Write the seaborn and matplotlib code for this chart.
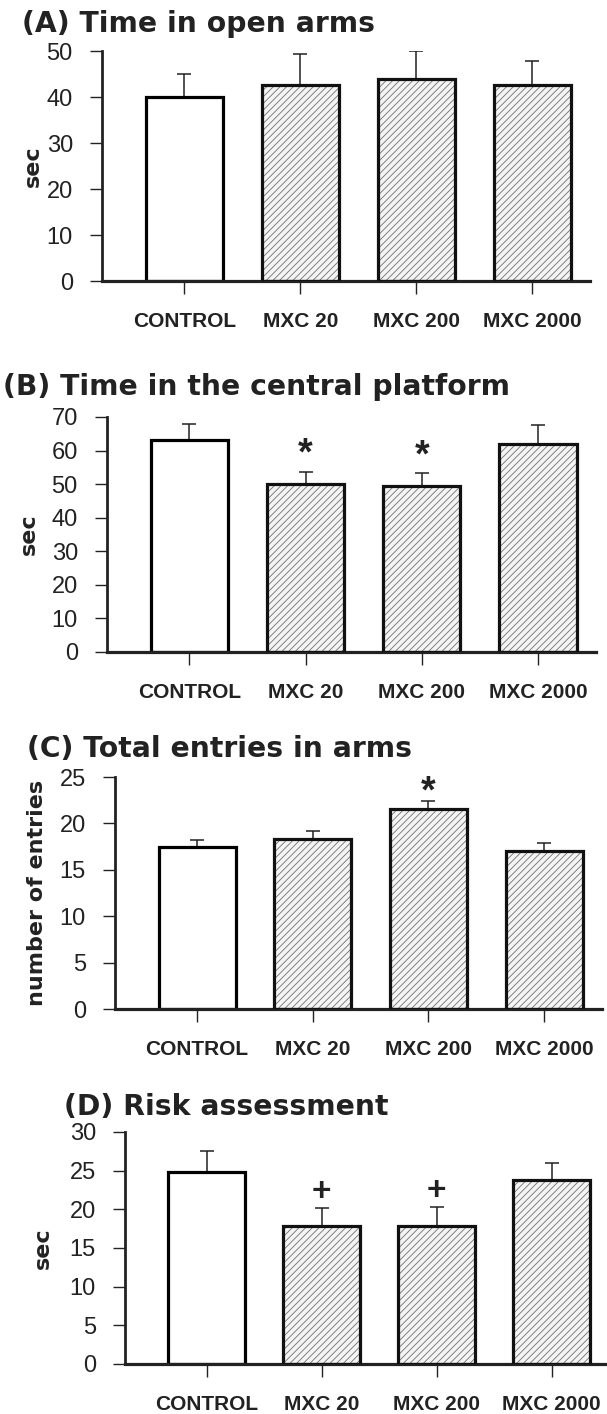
import matplotlib
matplotlib.use("Agg")
import matplotlib.pyplot as plt
from matplotlib.patches import Rectangle
import seaborn as sns
import pandas as pd
import numpy as np

# ---------------- data ----------------
groups = ["CONTROL", "MXC 20", "MXC 200", "MXC 2000"]

titles = ["(A) Time in open arms",
          "(B) Time in the central platform",
          "(C) Total entries in arms",
          "(D) Risk assessment"]
ylabels = ["sec", "sec", "number of entries", "sec"]

a_means = [40.0, 42.7, 44.0, 42.7]
a_err = [5.0, 6.6, 6.0, 5.2]
a_marks = ["", "", "", ""]
a_ymax, a_ystep = 50, 10

b_means = [63.0, 50.0, 49.5, 62.0]
b_err = [4.8, 3.7, 3.8, 5.6]
b_marks = ["", "*", "*", ""]
b_ymax, b_ystep = 70, 10

c_means = [17.5, 18.3, 21.5, 17.0]
c_err = [0.7, 0.9, 0.9, 0.9]
c_marks = ["", "", "*", ""]
c_ymax, c_ystep = 25, 5

d_means = [24.8, 17.9, 17.9, 23.8]
d_err = [2.8, 2.3, 2.4, 2.2]
d_marks = ["", "+", "+", ""]
d_ymax, d_ystep = 30, 5

panels = [
    (a_means, a_err, a_marks, a_ymax, a_ystep),
    (b_means, b_err, b_marks, b_ymax, b_ystep),
    (c_means, c_err, c_marks, c_ymax, c_ystep),
    (d_means, d_err, d_marks, d_ymax, d_ystep),
]

# ---------------- style ----------------
sns.set_style("ticks")
plt.rcParams["font.family"] = ["Liberation Sans", "DejaVu Sans"]
plt.rcParams["hatch.linewidth"] = 0.6

W, H = 607, 1414
fig = plt.figure(figsize=(W / 100, H / 100), dpi=100)

# axes boxes in pixels: left, top, right, bottom
boxes = [(102, 51, 590, 281),
         (107, 417, 596, 652),
         (115, 777, 602, 1009),
         (125, 1132, 609, 1364)]
title_pos = [(22, 32), (3, 395), (27, 757), (64, 1115)]
ylabel_x = [33, 29, 37, 43]
mark_gap_px = [0, -1, -9, 0]   # gap between error-bar top and marker

for i, (means, errs, marks, ymax, ystep) in enumerate(panels):
    l, t, r, b = boxes[i]
    ax = fig.add_axes([l / W, 1 - b / H, (r - l) / W, (b - t) / H])
    df = pd.DataFrame({"group": groups, "value": means})
    sns.barplot(data=df, x="group", y="value", ax=ax, color="white",
                edgecolor="black", linewidth=2.3, width=0.665,
                errorbar=None, zorder=2)
    xs, tops = [], []
    for j, p in enumerate(ax.patches):
        x0, y0 = p.get_x(), p.get_y()
        w, h = p.get_width(), p.get_height()
        xs.append(x0 + w / 2)
        tops.append(y0 + h)
        if j > 0:
            p.set_facecolor("#f4f4f4")
            p.set_hatch("/////")
            p.set_edgecolor("#707070")
            p.set_linewidth(0)
            ax.add_patch(Rectangle((x0, y0), w, h, fill=False,
                                   edgecolor="#111111", linewidth=2.3,
                                   zorder=3))
    ax.errorbar(xs, tops, yerr=[np.zeros(len(errs)), errs], fmt="none",
                ecolor="#222222", elinewidth=1.1, capsize=5,
                capthick=1.1, zorder=1)
    for x, top, e, m in zip(xs, tops, errs, marks):
        if m:
            ax.annotate(m, xy=(x, top + e),
                        xytext=(0, mark_gap_px[i] * 0.72),
                        textcoords="offset points", ha="center",
                        va="bottom", fontsize=27 if m == "*" else 24,
                        fontweight="bold", color="#222222")

    ax.set_xlim(-0.71, 3.5)
    ax.set_ylim(0, ymax)
    ax.set_yticks(np.arange(0, ymax + 0.1, ystep))
    ax.set_xlabel("")
    ax.set_ylabel(ylabels[i], fontsize=16, fontweight="bold",
                  color="#222222", family="DejaVu Sans")
    ax.yaxis.set_label_coords((ylabel_x[i] - l) / (r - l), 0.5)
    ax.yaxis.label.set_va("center")
    sns.despine(ax=ax)
    ax.spines["left"].set_linewidth(2.0)
    ax.spines["bottom"].set_linewidth(2.3)
    ax.spines["left"].set_color("#222222")
    ax.spines["bottom"].set_color("#222222")
    ax.tick_params(axis="y", length=9, width=1.0, pad=12, labelsize=17,
                   colors="#222222")
    ax.tick_params(axis="x", length=9, width=1.0, pad=13, labelsize=15,
                   colors="#222222")
    for lab in ax.get_xticklabels():
        lab.set_fontweight("bold")
    ax.set_facecolor("none")
    tx, ty = title_pos[i]
    fig.text(tx / W, 1 - ty / H, titles[i], ha="left", va="baseline",
             fontsize=20.3, fontweight="bold", color="#222222",
             family="DejaVu Sans")

fig.savefig("out.png", dpi=100)
